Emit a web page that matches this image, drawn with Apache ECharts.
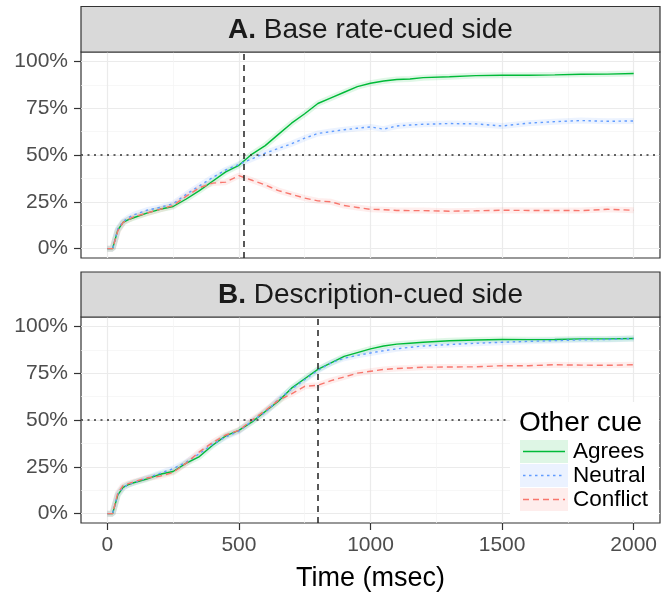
<!DOCTYPE html>
<html>
<head>
<meta charset="utf-8">
<script src="https://cdn.jsdelivr.net/npm/echarts@6/dist/echarts.min.js"></script>
<style>
  html, body { margin: 0; padding: 0; background: #fff; }
  #chart { width: 670px; height: 594px; }
</style>
</head>
<body>
<div id="chart"></div>
<script>
// time points (msec)
const timeMs = [0, 20, 40, 60, 80, 100, 150, 200, 250, 300, 350, 400, 450, 500, 550, 600, 650, 700, 750, 800,
  850, 900, 950, 1000, 1050, 1100, 1150, 1200, 1300, 1400, 1500, 1600, 1700, 1800, 1900, 2000]

// A. Base rate-cued side (% choosing)
const baseAgrees = [0, 0, 10, 14, 15.5, 16.5, 19, 21, 22.5, 26.5, 31, 36, 41, 44.5, 50.5, 55, 61, 67, 72, 77.5,
  80.5, 83.5, 86.5, 88.3, 89.5, 90.3, 90.6, 91.3, 91.8, 92.4, 92.6, 92.6, 92.8, 93.1, 93.2, 93.5]
const baseNeutral = [0, 0, 10.5, 14.5, 16.5, 18, 20.5, 22, 24, 29, 33.5, 38, 42, 45, 48, 51, 53.5, 56, 59, 61.5,
  62.5, 63.5, 64.3, 65, 63.8, 65.5, 66, 66.4, 66.8, 66.6, 65.5, 67, 67.8, 68.4, 68, 68.2]
const baseConflict = [0, 0, 9.5, 14, 15.5, 17, 19, 21, 23, 28, 32.5, 35, 35.5, 39, 36.5, 34, 31, 29, 27, 25.5,
  25, 23, 22, 21, 20.8, 20.4, 20.3, 20.3, 20, 20.2, 20.5, 20.4, 20.4, 20.3, 21, 20.5]

// B. Description-cued side
const descAgrees = [0, 0, 10, 14, 15.5, 16.5, 18.5, 21, 22.5, 27, 30.5, 36.5, 41.5, 44.5, 49, 54.5, 60, 67, 72, 77,
  80.5, 84, 86, 88, 89.5, 90.5, 91, 91.5, 92.3, 92.7, 93, 92.9, 93, 93.3, 93.3, 93.5]
const descNeutral = [0, 0, 10.5, 14, 15.5, 16.5, 19, 21.5, 24, 27.5, 32, 37, 41, 44, 49.5, 54, 61, 66.5, 71.5, 76.5,
  80.5, 83, 84.5, 85.8, 87, 88, 88.8, 89.5, 90.3, 91, 91.5, 92, 92.4, 92.8, 93, 93.5]
const descConflict = [0, 0, 11, 15, 16, 17, 19, 20, 22, 27, 33, 38, 42, 44.5, 50, 55, 60.5, 64, 68, 68.5,
  71, 73, 75, 76, 77, 77.5, 77.8, 78.2, 78.3, 78.4, 79, 79, 79.5, 79.3, 79.2, 79.5]

const xTicks = [0, 500, 1000, 1500, 2000]
const xMinor = [250, 750, 1250, 1750]
const yTicks = [0, 25, 50, 75, 100]
const yMinor = [12.5, 37.5, 62.5, 87.5]

const cutoffA = 520
const cutoffB = 800
const chanceLevel = 50

const cueNames = ['Agrees', 'Neutral', 'Conflict']
const cueColors = ['#00BA38', '#619CFF', '#F8766D']
const cueDash = ['solid', [2.5, 3.5], [6, 4]]

const FONT = '"Liberation Sans", Arial, sans-serif'
const L = 81, W = 579
const gridTops = [52, 317]
const GH = 206

const chart = echarts.init(document.getElementById('chart'))

const pairs = arr => timeMs.map((t, i) => [t, arr[i]])

const grids = gridTops.map(top => ({
  left: L, top: top, width: W, height: GH,
  show: true, borderColor: '#333', borderWidth: 1.2, backgroundColor: '#fff'
}))

const xAxes = []
const yAxes = []
gridTops.forEach((top, g) => {
  // major
  xAxes.push({
    type: 'value', gridIndex: g, min: -100, max: 2100, position: 'bottom',
    axisLine: { show: false, onZero: false },
    axisTick: { show: g === 1, customValues: xTicks, length: 7, lineStyle: { color: '#333', width: 1.2 } },
    axisLabel: { show: g === 1, customValues: xTicks, formatter: v => String(v), color: '#4d4d4d', fontSize: 21, fontFamily: FONT, margin: 12 },
    splitLine: { show: true, lineStyle: { color: '#ebebeb', width: 1.2 } },
    name: g === 1 ? 'Time (msec)' : '',
    nameLocation: 'middle', nameGap: 42,
    nameTextStyle: { color: '#000', fontSize: 27, fontFamily: FONT }
  })
  // minor
  xAxes.push({
    type: 'value', gridIndex: g, min: -100, max: 2100, position: 'bottom',
    axisLine: { show: false, onZero: false },
    axisTick: { show: false, customValues: xMinor },
    axisLabel: { show: false, customValues: xMinor },
    splitLine: { show: true, lineStyle: { color: '#f3f3f3', width: 0.7 } }
  })
  yAxes.push({
    type: 'value', gridIndex: g, min: -5, max: 105, position: 'left',
    axisLine: { show: false, onZero: false },
    axisTick: { show: true, customValues: yTicks, length: 7, lineStyle: { color: '#333', width: 1.2 } },
    axisLabel: { customValues: yTicks, formatter: v => v + '%', color: '#4d4d4d', fontSize: 21, fontFamily: FONT, margin: 13 },
    splitLine: { show: true, lineStyle: { color: '#ebebeb', width: 1.2 } }
  })
  yAxes.push({
    type: 'value', gridIndex: g, min: -5, max: 105, position: 'left',
    axisLine: { show: false, onZero: false },
    axisTick: { show: false, customValues: yMinor },
    axisLabel: { show: false, customValues: yMinor },
    splitLine: { show: true, lineStyle: { color: '#f3f3f3', width: 0.7 } }
  })
})

const panels = [
  { data: [baseAgrees, baseNeutral, baseConflict], cutoff: cutoffA },
  { data: [descAgrees, descNeutral, descConflict], cutoff: cutoffB }
]

const series = []
panels.forEach((p, g) => {
  // soft bands
  p.data.forEach((arr, k) => {
    series.push({
      type: 'line', xAxisIndex: g * 2, yAxisIndex: g * 2,
      data: pairs(arr), symbol: 'none', silent: true,
      lineStyle: { color: cueColors[k], width: 6, opacity: 0.12 },
      z: 2
    })
  })
  // reference lines
  series.push({
    type: 'line', xAxisIndex: g * 2, yAxisIndex: g * 2, data: [], silent: true,
    markLine: {
      silent: true, symbol: ['none', 'none'], label: { show: false }, animation: false,
      data: [
        { xAxis: p.cutoff, lineStyle: { color: '#222', type: [6, 5], width: 1.5 } },
        { yAxis: chanceLevel, lineStyle: { color: '#333', type: [2, 4.5], width: 1.5 } }
      ]
    },
    z: 3
  })
  p.data.forEach((arr, k) => {
    series.push({
      name: cueNames[k],
      type: 'line', xAxisIndex: g * 2, yAxisIndex: g * 2,
      data: pairs(arr), symbol: 'none',
      lineStyle: { color: cueColors[k], width: 1.4, type: cueDash[k] },
      z: 4
    })
  })
})

// facet strips
const stripRects = [[6.5, 45.5], [272, 45]]
const stripTitles = [['A.', 'Base rate-cued side'], ['B.', 'Description-cued side']]
const graphic = []
stripRects.forEach((s, i) => {
  graphic.push({
    type: 'rect', shape: { x: L, y: s[0], width: W, height: s[1] },
    style: { fill: '#d9d9d9', stroke: '#333', lineWidth: 1.2 }, z: 50
  })
  graphic.push({
    type: 'text', x: L + W / 2, y: s[0] + s[1] / 2 + 1, z: 51,
    style: {
      text: '{b|' + stripTitles[i][0] + '} ' + stripTitles[i][1],
      align: 'center', verticalAlign: 'middle',
      fontSize: 28, fontFamily: FONT, fill: '#1a1a1a',
      rich: { b: { fontWeight: 'bold', fontSize: 28, fontFamily: FONT, fill: '#1a1a1a' } }
    }
  })
})

// legend box inside panel B
const legX = 510, legY = 402
graphic.push({
  type: 'rect', shape: { x: legX, y: legY, width: 149, height: 118 },
  style: { fill: '#fff' }, z: 60
})
graphic.push({
  type: 'text', x: 519, y: 423, z: 61,
  style: { text: 'Other cue', fontSize: 28, fontFamily: FONT, fill: '#000', verticalAlign: 'middle' }
})
cueNames.forEach((name, k) => {
  const y0 = 440 + k * 24
  graphic.push({
    type: 'rect', shape: { x: 520, y: y0, width: 48, height: 23 },
    style: { fill: cueColors[k], opacity: 0.13 }, z: 61
  })
  graphic.push({
    type: 'line', shape: { x1: 523, y1: y0 + 11.5, x2: 565, y2: y0 + 11.5 }, z: 62,
    style: { stroke: cueColors[k], lineWidth: 1.4, lineDash: cueDash[k] === 'solid' ? null : cueDash[k] }
  })
  graphic.push({
    type: 'text', x: 573, y: y0 + 12, z: 62,
    style: { text: name, fontSize: 22.5, fontFamily: FONT, fill: '#000', verticalAlign: 'middle' }
  })
})

chart.setOption({
  animation: false,
  backgroundColor: '#fff',
  grid: grids,
  xAxis: xAxes,
  yAxis: yAxes,
  series: series,
  graphic: graphic
})
</script>
</body>
</html>
